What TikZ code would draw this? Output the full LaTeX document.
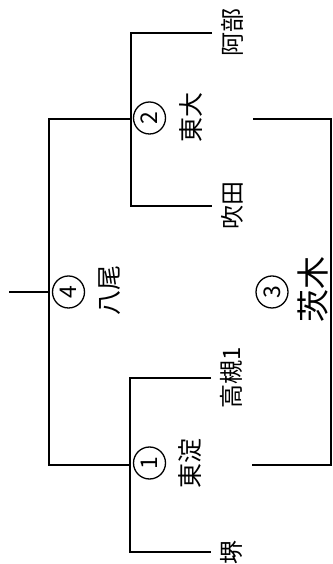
\documentclass[tikz,border=0pt]{standalone}
\usepackage{fontspec}
\newfontfamily\jpfont{Noto Sans CJK JP}
\begin{document}
\begin{tikzpicture}[x=1pt,y=1pt,
  team/.style={rotate=90, anchor=north, inner sep=9pt, font=\jpfont\fontsize{24}{24}\selectfont},
  win/.style={rotate=90, inner sep=0pt, font=\jpfont\fontsize{25}{25}\selectfont},
  rnd/.style={rotate=90, draw, circle, line width=1.3pt, minimum size=32pt, inner sep=0pt, font=\jpfont\fontsize{23}{23}\selectfont},
  brk/.style={line width=1.8pt}]
\clip (0,0) rectangle (332,564);

% bracket points
\coordinate (stem) at (9,272);
\coordinate (s4) at (49,272);
\coordinate (o4t) at (49,445);
\coordinate (o4b) at (49,99);
\coordinate (j2) at (131,445);
\coordinate (j1) at (130,99);
\coordinate (b2t) at (131,531);
\coordinate (b2b) at (131,358);
\coordinate (b1t) at (130,186);
\coordinate (b1b) at (130,12);
\coordinate (e2) at (253,445);
\coordinate (e1) at (252,99);
\coordinate (f2) at (331,445);
\coordinate (f1) at (331,99);

% teams
\node[team] (abe) at (212,531) {阿部};
\node[team] (suita) at (212,358) {吹田};
\node[team] (taka) at (211,186) {高槻1};
\node[team] (sakai) at (211,12) {堺};

% rounds
\node[rnd] (r2) at (149.5,446) {2};
\node[rnd] (r1) at (149.5,101) {1};
\node[rnd] (r4) at (68.5,272) {4};
\node[rnd] (r3) at (272,272) {3};

% winners
\node[win] (w2) at (191,446) {東大};
\node[win] (w1) at (190,100) {東淀};
\node[win] (w4) at (110,273) {八尾};
\node[win, font=\jpfont\fontsize{33}{33}\selectfont] (w3) at (313,274) {茨木};

\draw[brk] (stem) -- (s4);
\draw[brk] (j2) -- (o4t) -- (o4b) -- (j1);
\draw[brk] (abe.north) -- (b2t) -- (b2b) -- (suita.north);
\draw[brk] (taka.north) -- (b1t) -- (b1b) -- (sakai.north);
\draw[brk] (e2) -- (f2) -- (f1) -- (e1);
\end{tikzpicture}
\end{document}
